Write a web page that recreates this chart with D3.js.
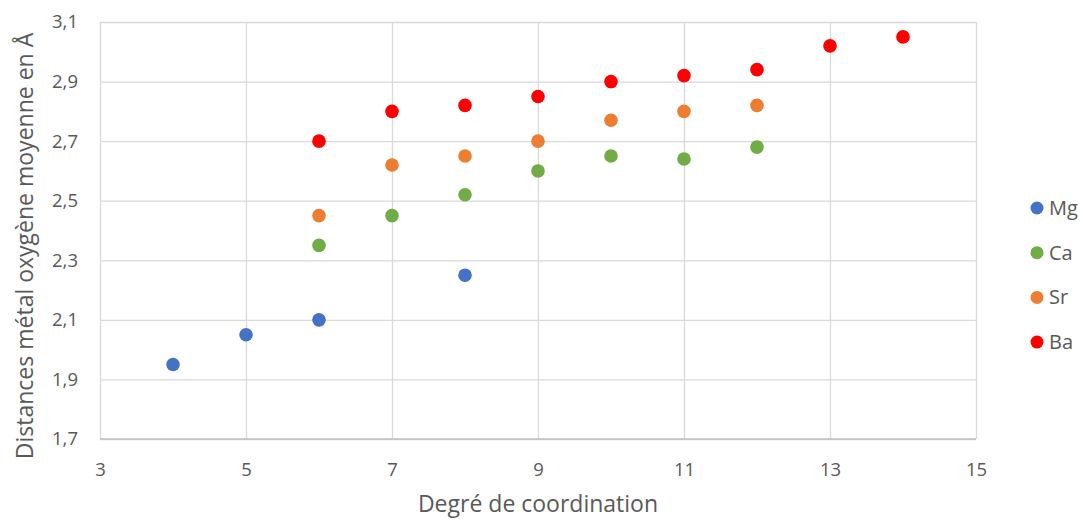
<!DOCTYPE html>
<html><head><meta charset="utf-8">
<script src="https://cdn.jsdelivr.net/npm/d3@7"></script>
<style>body{margin:0;background:#fff}svg{display:block}</style>
</head><body><svg id="c" width="1083" height="520"></svg>
<script>
const seriesNames = ["Mg", "Ca", "Sr", "Ba"];
const colors = ["#4472C4", "#70AD47", "#ED7D31", "#FF0000"];
const mgX = [4, 5, 6, 8];
const mgY = [1.95, 2.05, 2.10, 2.25];
const caX = [6, 7, 8, 9, 10, 11, 12];
const caY = [2.35, 2.45, 2.52, 2.60, 2.65, 2.64, 2.68];
const srX = [6, 7, 8, 9, 10, 11, 12];
const srY = [2.45, 2.62, 2.65, 2.70, 2.77, 2.80, 2.82];
const baX = [6, 7, 8, 9, 10, 11, 12, 13, 14];
const baY = [2.70, 2.80, 2.82, 2.85, 2.90, 2.92, 2.94, 3.02, 3.05];
const xTicks = [3, 5, 7, 9, 11, 13, 15];
const yTicks = [1.7, 1.9, 2.1, 2.3, 2.5, 2.7, 2.9, 3.1];
const xTitle = "Degré de coordination";
const yTitle = "Distances métal oxygène moyenne en Å";

const series = [[mgX, mgY], [caX, caY], [srX, srY], [baX, baY]].map((s, i) => ({
  name: seriesNames[i], color: colors[i], pts: s[0].map((x, j) => [x, s[1][j]])
}));

const svg = d3.select("#c");
const L = 100, R = 976, T = 22, B = 439;
const x = d3.scaleLinear().domain([3, 15]).range([L, R]);
const y = d3.scaleLinear().domain([1.7, 3.1]).range([B, T]);
const font = "'Open Sans', 'Liberation Sans', sans-serif";
const fmt = d => d3.format(".1f")(d).replace(".", ",");

// grid
const gx = svg.append("g").attr("transform", `translate(0,${B})`)
  .call(d3.axisBottom(x).tickValues(xTicks).tickSize(-(B - T)).tickFormat(d => d).tickPadding(20));
const gy = svg.append("g").attr("transform", `translate(${L},0)`)
  .call(d3.axisLeft(y).tickValues(yTicks).tickSize(-(R - L)).tickFormat(fmt).tickPadding(22));
[gx, gy].forEach(g => {
  g.select(".domain").remove();
  g.selectAll(".tick line").attr("stroke", "#d9d9d9").attr("stroke-width", 1.3);
  g.selectAll(".tick text").attr("fill", "#595959").style("font-family", font).style("font-size", "18.5px");
});
gx.selectAll(".tick text").attr("dy", "0.9em");
// bottom axis line
svg.append("line").attr("x1", L).attr("x2", R).attr("y1", B).attr("y2", B)
  .attr("stroke", "#bfbfbf").attr("stroke-width", 1.3);

// points
series.forEach(s => {
  svg.append("g").selectAll("circle").data(s.pts).join("circle")
    .attr("cx", d => x(d[0])).attr("cy", d => y(d[1])).attr("r", 6.8)
    .attr("fill", s.color);
});

// titles
svg.append("text").attr("x", 538).attr("y", 512).attr("text-anchor", "middle")
  .attr("fill", "#595959").style("font-family", font).style("font-size", "23px").text(xTitle);
svg.append("text").attr("transform", `translate(33,246) rotate(-90)`).attr("text-anchor", "middle")
  .attr("fill", "#595959").style("font-family", font).style("font-size", "23px").text(yTitle);

// legend
const lg = svg.append("g");
series.forEach((s, i) => {
  const yy = 208 + i * 44.7;
  lg.append("circle").attr("cx", 1037).attr("cy", yy).attr("r", 6.5).attr("fill", s.color);
  lg.append("text").attr("x", 1049).attr("y", yy).attr("dy", "0.35em")
    .attr("fill", "#595959").style("font-family", font).style("font-size", "20px").text(s.name);
});
</script></body></html>
